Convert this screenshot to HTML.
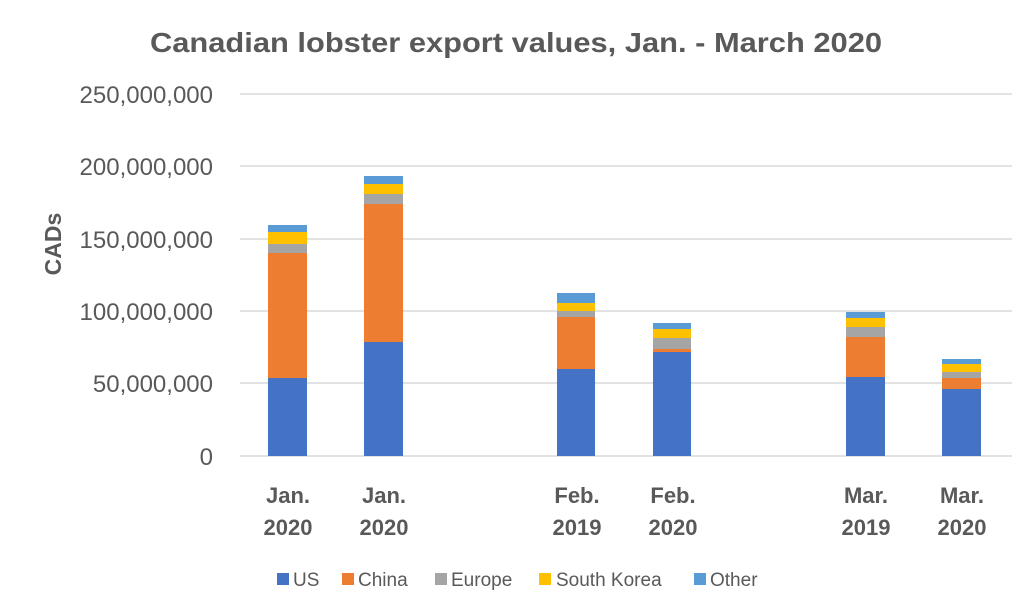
<!DOCTYPE html>
<html><head><style>body{margin:0;background:#fff}svg{display:block}</style></head>
<body>
<svg width="1024" height="611" xmlns="http://www.w3.org/2000/svg" font-family="Liberation Sans, sans-serif">
<text x="150" y="52" textLength="732" lengthAdjust="spacingAndGlyphs" font-size="28" font-weight="bold" fill="#595959">Canadian lobster export values, Jan. - March 2020</text>
<g stroke="#d9d9d9" stroke-width="1.5">
<line x1="240" y1="94" x2="1012" y2="94"/><line x1="240" y1="166" x2="1012" y2="166"/>
<line x1="240" y1="239" x2="1012" y2="239"/><line x1="240" y1="311" x2="1012" y2="311"/>
<line x1="240" y1="383" x2="1012" y2="383"/><line x1="240" y1="456" x2="1012" y2="456"/>
</g>
<g font-size="24" fill="#595959" text-anchor="end">
<text x="213" y="103">250,000,000</text><text x="213" y="175">200,000,000</text>
<text x="213" y="248">150,000,000</text><text x="213" y="320">100,000,000</text>
<text x="213" y="392">50,000,000</text><text x="213" y="465">0</text>
</g>
<text transform="translate(61,244) rotate(-90)" text-anchor="middle" font-size="23" font-weight="bold" fill="#595959">CADs</text>
<g>
<rect x="268" y="225" width="39" height="7" fill="#5b9bd5"/><rect x="268" y="232" width="39" height="12" fill="#ffc000"/><rect x="268" y="244" width="39" height="9" fill="#a5a5a5"/><rect x="268" y="253" width="39" height="125" fill="#ed7d31"/><rect x="268" y="378" width="39" height="78" fill="#4472c4"/>
<rect x="364" y="176" width="39" height="8" fill="#5b9bd5"/><rect x="364" y="184" width="39" height="10" fill="#ffc000"/><rect x="364" y="194" width="39" height="10" fill="#a5a5a5"/><rect x="364" y="204" width="39" height="138" fill="#ed7d31"/><rect x="364" y="342" width="39" height="114" fill="#4472c4"/>
<rect x="557" y="293" width="38" height="10" fill="#5b9bd5"/><rect x="557" y="303" width="38" height="8" fill="#ffc000"/><rect x="557" y="311" width="38" height="6" fill="#a5a5a5"/><rect x="557" y="317" width="38" height="52" fill="#ed7d31"/><rect x="557" y="369" width="38" height="87" fill="#4472c4"/>
<rect x="653" y="323" width="38" height="6" fill="#5b9bd5"/><rect x="653" y="329" width="38" height="9" fill="#ffc000"/><rect x="653" y="338" width="38" height="11" fill="#a5a5a5"/><rect x="653" y="349" width="38" height="3" fill="#ed7d31"/><rect x="653" y="352" width="38" height="104" fill="#4472c4"/>
<rect x="846" y="312" width="39" height="6" fill="#5b9bd5"/><rect x="846" y="318" width="39" height="9" fill="#ffc000"/><rect x="846" y="327" width="39" height="10" fill="#a5a5a5"/><rect x="846" y="337" width="39" height="40" fill="#ed7d31"/><rect x="846" y="377" width="39" height="79" fill="#4472c4"/>
<rect x="942" y="359" width="39" height="5" fill="#5b9bd5"/><rect x="942" y="364" width="39" height="8" fill="#ffc000"/><rect x="942" y="372" width="39" height="6" fill="#a5a5a5"/><rect x="942" y="378" width="39" height="11" fill="#ed7d31"/><rect x="942" y="389" width="39" height="67" fill="#4472c4"/>
</g>
<g font-size="22" font-weight="bold" fill="#595959" text-anchor="middle">
<text x="288" y="503">Jan.</text><text x="288" y="535">2020</text>
<text x="384" y="503">Jan.</text><text x="384" y="535">2020</text>
<text x="577" y="503">Feb.</text><text x="577" y="535">2019</text>
<text x="673" y="503">Feb.</text><text x="673" y="535">2020</text>
<text x="866" y="503">Mar.</text><text x="866" y="535">2019</text>
<text x="962" y="503">Mar.</text><text x="962" y="535">2020</text>
</g>
<g font-size="19" fill="#595959">
<rect x="277" y="573" width="12" height="12" fill="#4472c4"/><text x="293" y="586">US</text>
<rect x="342" y="573" width="12" height="12" fill="#ed7d31"/><text x="358" y="586">China</text>
<rect x="435" y="573" width="12" height="12" fill="#a5a5a5"/><text x="451" y="586">Europe</text>
<rect x="539" y="573" width="12" height="12" fill="#ffc000"/><text x="556" y="586">South Korea</text>
<rect x="694" y="573" width="12" height="12" fill="#5b9bd5"/><text x="710" y="586">Other</text>
</g>
</svg>
</body></html>
